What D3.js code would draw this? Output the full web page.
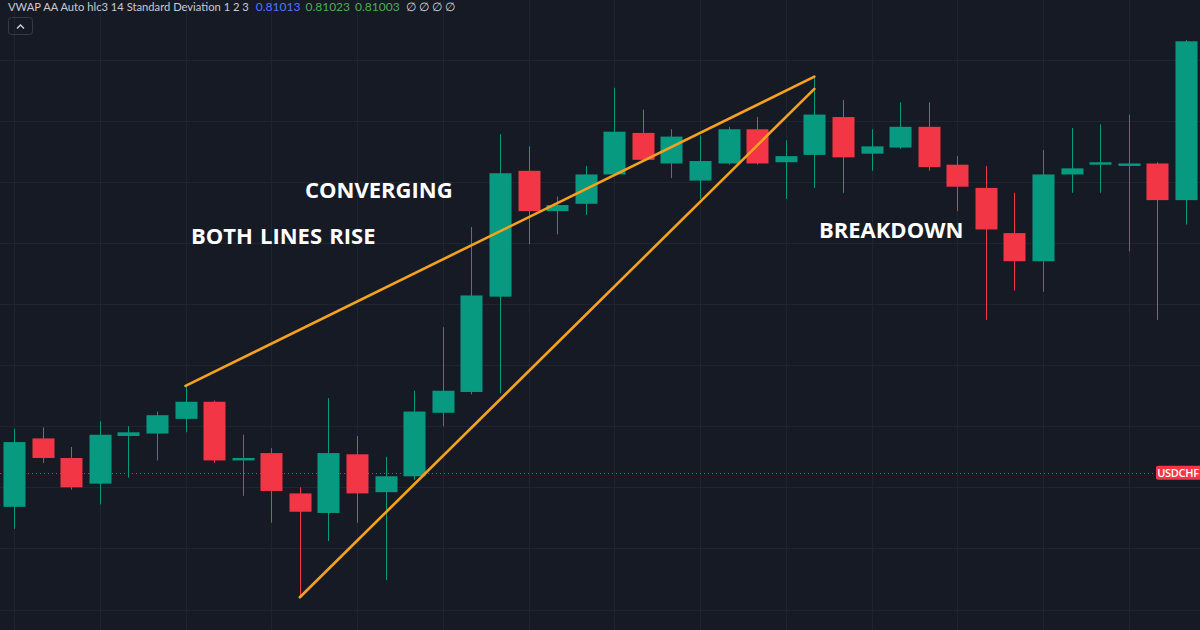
<!DOCTYPE html>
<html>
<head>
<meta charset="utf-8">
<script src="https://cdn.jsdelivr.net/npm/d3@7"></script>
<style>
  html, body { margin: 0; padding: 0; background: #161a25; }
  svg { display: block; }
</style>
</head>
<body>
<div id="chart"></div>
<script>
// USDCHF candles
const opens  = [0.80884, 0.80940, 0.80924, 0.80903, 0.80942, 0.80944, 0.80956, 0.80970, 0.80922, 0.80928,
                0.80895, 0.80879, 0.80927, 0.80896, 0.80909, 0.80961, 0.80978, 0.81056, 0.81159, 0.81126,
                0.81132, 0.81156, 0.81190, 0.81165, 0.81151, 0.81165, 0.81193, 0.81166, 0.81172, 0.81203,
                0.81173, 0.81178, 0.81195, 0.81164, 0.81145, 0.81108, 0.81085, 0.81156, 0.81164, 0.81163,
                0.81165, 0.81135];
const highs  = [0.80948, 0.80949, 0.80933, 0.80954, 0.80950, 0.80962, 0.80983, 0.80971, 0.80943, 0.80932,
                0.80900, 0.80973, 0.80942, 0.80925, 0.80979, 0.81031, 0.81113, 0.81189, 0.81179, 0.81138,
                0.81163, 0.81227, 0.81209, 0.81193, 0.81188, 0.81195, 0.81203, 0.81184, 0.81235, 0.81217,
                0.81193, 0.81215, 0.81215, 0.81171, 0.81163, 0.81141, 0.81176, 0.81194, 0.81197, 0.81205,
                0.81166, 0.81266];
const lows   = [0.80866, 0.80920, 0.80898, 0.80886, 0.80908, 0.80922, 0.80945, 0.80920, 0.80893, 0.80871,
                0.80810, 0.80856, 0.80871, 0.80824, 0.80906, 0.80950, 0.80976, 0.80977, 0.81099, 0.81107,
                0.81123, 0.81155, 0.81167, 0.81153, 0.81136, 0.81164, 0.81164, 0.81136, 0.81145, 0.81141,
                0.81159, 0.81177, 0.81159, 0.81126, 0.81037, 0.81061, 0.81060, 0.81141, 0.81141, 0.81093,
                0.81037, 0.81115];
const closes = [0.80937, 0.80924, 0.80900, 0.80943, 0.80945, 0.80959, 0.80970, 0.80922, 0.80924, 0.80897,
                0.80880, 0.80928, 0.80895, 0.80909, 0.80962, 0.80979, 0.81057, 0.81157, 0.81126, 0.81131,
                0.81156, 0.81191, 0.81168, 0.81187, 0.81167, 0.81193, 0.81165, 0.81171, 0.81205, 0.81170,
                0.81179, 0.81195, 0.81162, 0.81146, 0.81111, 0.81085, 0.81156, 0.81161, 0.81166, 0.81165,
                0.81135, 0.81265];

// rising wedge: [start bar, start price, end bar, end price]
const upperLine = [6, 0.80983, 28, 0.81236];
const lowerLine = [10, 0.80810, 28, 0.81226];

const labels      = ["BOTH LINES RISE", "CONVERGING", "BREAKDOWN"];
const labelBars   = [6.19, 10.18, 28.16];
const labelPrices = [0.81099, 0.81137, 0.81104];

const lastPrice = 0.80912;
const symbol = "USDCHF";

const legendName = "VWAP AA Auto hlc3 14 Standard Deviation 1 2 3";
const legendValues = ["0.81013", "0.81023", "0.81003"];
const legendEmpty = "∅ ∅ ∅ ∅";

const W = 1200, H = 630;
const UP = "#089981", DOWN = "#f23645";

const svg = d3.select("#chart").append("svg")
    .attr("width", W)
    .attr("height", H);

svg.append("rect").attr("width", W).attr("height", H).attr("fill", "#161a25");

const x = d3.scaleLinear().domain([0, opens.length - 1]).range([14, 1186]);
const y = d3.scaleLinear().domain([0.8080, 0.8125]).range([609.5, 59.6]);

// grid
const gridTicks = d3.range(0.8075, 0.81351, 0.0005);
svg.append("g").selectAll("line")
    .data(gridTicks)
    .join("line")
    .attr("x1", 0).attr("x2", W)
    .attr("y1", d => Math.round(y(d)) + 0.5)
    .attr("y2", d => Math.round(y(d)) + 0.5)
    .attr("stroke", "#1f2431");

svg.append("g").selectAll("line")
    .data(d3.range(0, opens.length, 3))
    .join("line")
    .attr("y1", 0).attr("y2", H)
    .attr("x1", d => Math.round(x(d)) + 0.5)
    .attr("x2", d => Math.round(x(d)) + 0.5)
    .attr("stroke", "#1f2431");

// last price line
svg.append("line")
    .attr("x1", 0).attr("x2", W)
    .attr("y1", Math.round(y(lastPrice)) + 0.5)
    .attr("y2", Math.round(y(lastPrice)) + 0.5)
    .attr("stroke", "#d2455a")
    .attr("stroke-opacity", 0.9)
    .attr("stroke-dasharray", "1,3");

// candles
const bars = d3.range(opens.length).map(i => ({
    i, o: opens[i], h: highs[i], l: lows[i], c: closes[i]
}));
const bw = 22;

const candle = svg.append("g").selectAll("g")
    .data(bars)
    .join("g");

candle.append("line")
    .attr("x1", d => Math.round(x(d.i)) + 0.5)
    .attr("x2", d => Math.round(x(d.i)) + 0.5)
    .attr("y1", d => y(d.h))
    .attr("y2", d => y(d.l))
    .attr("stroke", d => d.c >= d.o ? UP : DOWN);

candle.append("rect")
    .attr("x", d => Math.round(x(d.i)) + 0.5 - bw / 2)
    .attr("width", bw)
    .attr("y", d => y(Math.max(d.o, d.c)))
    .attr("height", d => Math.max(2, Math.abs(y(d.o) - y(d.c))))
    .attr("fill", d => d.c >= d.o ? UP : DOWN);

// wedge lines
const lineColor = "#f6a21d";
[upperLine, lowerLine].forEach(t => {
    svg.append("line")
        .attr("x1", x(t[0])).attr("y1", y(t[1]))
        .attr("x2", x(t[2])).attr("y2", y(t[3]))
        .attr("stroke", lineColor)
        .attr("stroke-width", 2.6)
        .attr("stroke-linecap", "round");
});

// annotations
svg.append("g").selectAll("text")
    .data(labels)
    .join("text")
    .attr("x", (d, i) => x(labelBars[i]))
    .attr("y", (d, i) => y(labelPrices[i]))
    .attr("fill", "#ffffff")
    .attr("font-family", "'Open Sans', sans-serif")
    .attr("font-weight", 700)
    .attr("font-size", 22)
    .attr("word-spacing", 1.5)
    .text(d => d);

// price label on the right
const lp = y(lastPrice);
svg.append("rect")
    .attr("x", 1156).attr("y", lp - 7)
    .attr("width", 46).attr("height", 14)
    .attr("rx", 2)
    .attr("fill", DOWN);
svg.append("text")
    .attr("x", 1178).attr("y", lp + 4)
    .attr("text-anchor", "middle")
    .attr("fill", "#ffffff")
    .attr("font-family", "'Open Sans', sans-serif")
    .attr("font-weight", 600)
    .attr("font-size", 11)
    .attr("letter-spacing", -0.3)
    .text(symbol);

// legend at the top
const legend = svg.append("text")
    .attr("x", 8).attr("y", 11)
    .attr("font-family", "Lato, sans-serif")
    .attr("font-size", 11.2);
legend.append("tspan").attr("fill", "#c7cad3").text(legendName);
const valueColors = ["#4a78ff", "#4caf50", "#4caf50"];
legendValues.forEach((v, i) => {
    legend.append("tspan").attr("dx", i === 0 ? 7 : 5).attr("fill", valueColors[i])
        .attr("font-size", 12).text(v);
});
legend.append("tspan").attr("dx", 6).attr("fill", "#d1d4dc").attr("font-size", 12).text(legendEmpty);

// collapse button
svg.append("rect")
    .attr("x", 8.5).attr("y", 17.5)
    .attr("width", 24).attr("height", 17)
    .attr("rx", 3)
    .attr("fill", "none")
    .attr("stroke", "#363a45");
svg.append("path")
    .attr("d", "M17,28.5 L20.5,25 L24,28.5")
    .attr("fill", "none")
    .attr("stroke", "#d1d4dc")
    .attr("stroke-width", 1.3);
</script>
</body>
</html>
